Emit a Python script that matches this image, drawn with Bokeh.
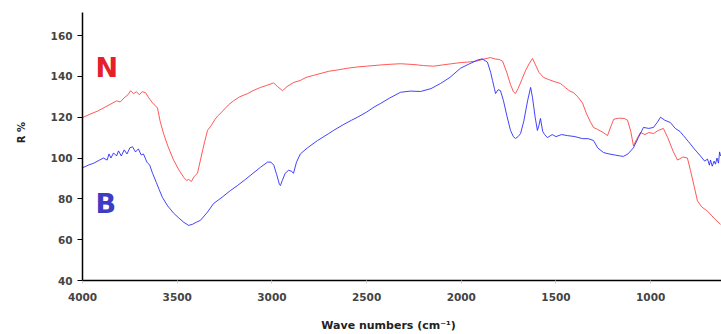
from bokeh.plotting import figure
from bokeh.models import Range1d, Label, FixedTicker
from bokeh.embed import file_html
from bokeh.resources import INLINE

# Series N (red)
n_wn = [4000, 3960, 3920, 3880, 3850, 3820, 3800, 3780, 3760, 3746, 3730, 3715, 3700, 3685, 3667,
        3650, 3630, 3604, 3590, 3572, 3550, 3519, 3490, 3465, 3450, 3440, 3425, 3410, 3393, 3370,
        3355, 3340, 3320, 3300, 3287, 3260, 3230, 3203, 3170, 3130, 3100, 3060, 3030, 2991, 2970,
        2944, 2920, 2886, 2850, 2820, 2780, 2740, 2700, 2650, 2601, 2550, 2500, 2450, 2400, 2321,
        2250, 2200, 2147, 2100, 2050, 2000, 1967, 1920, 1880, 1846, 1820, 1800, 1782, 1760, 1740,
        1725, 1714, 1700, 1680, 1660, 1640, 1624, 1610, 1590, 1566, 1540, 1510, 1476, 1450, 1430,
        1407, 1385, 1360, 1340, 1320, 1302, 1280, 1250, 1228, 1210, 1195, 1170, 1140, 1122, 1105,
        1091, 1075, 1054, 1030, 1010, 985, 960, 933, 910, 880, 858, 830, 806, 790, 770,
        753, 730, 700, 680, 660, 631]
n_val = [119.8, 121.5, 123, 125, 126.5, 128, 127.5, 129.5, 131, 133, 131.5, 132.5, 131, 132.5, 132,
         129.5, 127, 124.5, 118, 112, 106, 99, 94, 90.5, 89, 89.5, 88.5, 91, 92.5, 102,
         108, 113.5, 116, 119, 120.5, 123, 126, 128, 130, 131.5, 133, 134.6, 135.5, 136.8, 135,
         133, 135, 137, 138, 139.5, 140.5, 141.5, 142.5, 143.2, 144, 144.6, 145, 145.4, 145.8, 146.2,
         145.8, 145.3, 145, 145.6, 146.2, 146.8, 147, 147.5, 148.5, 149.2, 148.5, 148.3, 147.5, 142, 136,
         132.5, 131.6, 134, 138.5, 143, 146.5, 148.8, 146, 142, 139.5, 138.5, 137.5, 136.5, 134.5, 133,
         132, 130, 127, 122, 118, 115, 114, 112.5, 111, 115.5, 119, 119.5, 119.4, 118.5, 113,
         106, 109, 112.5, 111.5, 112.5, 112, 113.5, 114.5, 110, 103, 99, 100.5, 100, 94, 86,
         79, 76, 74, 72, 70, 67.5]

# Series B (blue)
b_wn = [4000, 3970, 3940, 3910, 3889, 3870, 3860, 3850, 3836, 3820, 3810, 3795, 3780, 3765, 3750,
        3736, 3720, 3705, 3690, 3678, 3660, 3645, 3630, 3610, 3595, 3578, 3550, 3519, 3490, 3465,
        3440, 3420, 3400, 3377, 3340, 3308, 3260, 3220, 3182, 3140, 3100, 3060, 3023, 3005, 2990,
        2975, 2960, 2955, 2945, 2930, 2912, 2895, 2886, 2870, 2850, 2812, 2760, 2700, 2675, 2620,
        2580, 2548, 2500, 2460, 2427, 2380, 2321, 2270, 2215, 2160, 2110, 2060, 2004, 1960, 1914,
        1890, 1862, 1845, 1835, 1825, 1819, 1805, 1793, 1777, 1760, 1740, 1725, 1714, 1700, 1687,
        1670, 1650, 1634, 1624, 1610, 1598, 1590, 1582, 1570, 1560, 1545, 1520, 1500, 1470, 1440,
        1400, 1360, 1330, 1302, 1280, 1249, 1220, 1190, 1160, 1144, 1120, 1091, 1065, 1038, 1010,
        985, 965, 948, 925, 896, 870, 845, 827, 800, 770, 737, 715, 700, 690, 684, 675, 665,
        658, 650, 642, 636, 631]
b_val = [95.2, 96.5, 97.5, 99, 100, 99, 102, 100, 102.5, 101, 103.5, 101, 104, 102, 105,
         105.5, 103, 104.5, 101.5, 102, 98, 96.5, 92.5, 88, 84.5, 80.7, 76.5, 73, 70.5, 68.5,
         67, 67.5, 68.5, 69.5, 73.5, 77.7, 81, 84, 86.5, 89.5, 92.5, 95.5, 98, 98, 96.5,
         92, 87, 86.5, 89, 92.5, 94, 93.5, 92.5, 98, 102, 105, 108.5, 112, 113.5, 116.5,
         118.5, 120, 122.5, 125, 126.7, 129.3, 132.2, 132.8, 132.6, 134, 136.5, 139.5, 144, 146, 148,
         148.6, 147, 142, 138, 134, 131.6, 133.5, 133, 128, 121, 113.5, 110.5, 109.6, 110.5, 112,
         118, 128, 134.6, 129.7, 120, 113.5, 116, 119.4, 113, 111.5, 110, 111.5, 110.5, 111.5, 111,
         110.5, 109.5, 109.5, 108.6, 105, 102.7, 102, 101.5, 101, 100.8, 102, 105, 110, 115, 114.5,
         115, 117.5, 120, 118.5, 117.4, 114.5, 113, 111, 108, 104.5, 101, 98.5, 99.5, 96.5, 99, 96, 98.5,
         97, 100, 97.5, 103, 101]

y_ticks = [40, 60, 80, 100, 120, 140, 160]
x_ticks = [4000, 3500, 3000, 2500, 2000, 1500, 1000]

p = figure(width=721, height=334, output_backend="svg", toolbar_location=None,
           x_range=Range1d(4000, 626), y_range=Range1d(40, 171.3),
           min_border_left=82, min_border_right=0, min_border_top=12, min_border_bottom=54)
p.outline_line_color = None
p.grid.visible = False
p.background_fill_color = "white"

p.line(n_wn, n_val, line_color="#ff3b3b", line_width=1, line_alpha=0.85)
p.line(b_wn, b_val, line_color="#2222ff", line_width=1, line_alpha=0.85)

p.add_layout(Label(x=3931, y=144.4, text="N", text_color="#e5202a", text_font="DejaVu Sans",
                   text_font_style="bold", text_font_size="27px", text_baseline="middle",
                   text_align="left"))
p.add_layout(Label(x=3931, y=77.7, text="B", text_color="#3d3dc4", text_font="DejaVu Sans",
                   text_font_style="bold", text_font_size="27px", text_baseline="middle",
                   text_align="left"))

for ax in (p.xaxis[0], p.yaxis[0]):
    ax.axis_line_color = "black"
    ax.axis_line_width = 1.5
    ax.major_label_text_font = "DejaVu Sans"
    ax.major_label_text_font_style = "bold"
    ax.major_label_text_font_size = "10.5px"
    ax.major_label_text_color = "#444444"
    ax.minor_tick_line_color = None
    ax.axis_label_text_font = "DejaVu Sans"
    ax.axis_label_text_font_style = "bold"
    ax.axis_label_text_font_size = "10px"
    ax.axis_label_text_color = "#222222"

p.xaxis.ticker = FixedTicker(ticks=x_ticks)
p.yaxis.ticker = FixedTicker(ticks=y_ticks)
p.xaxis.major_tick_line_color = "#cccccc"
p.xaxis.major_tick_out = 3
p.xaxis.major_tick_in = 0
p.xaxis.major_label_standoff = 9
p.xaxis.axis_label = "Wave numbers (cm\u207b\u00b9)" + "\u00a0" * 7
p.xaxis.axis_label_text_font_size = "11px"
p.xaxis.axis_label_standoff = 15

p.yaxis.major_tick_line_color = "black"
p.yaxis.major_tick_out = 5
p.yaxis.major_tick_in = 0
p.yaxis.major_label_standoff = 5
p.yaxis.axis_label = "\u00a0" * 8 + "R %"
p.yaxis.axis_label_standoff = 21

open("out.html", "w").write(file_html(p, INLINE))
